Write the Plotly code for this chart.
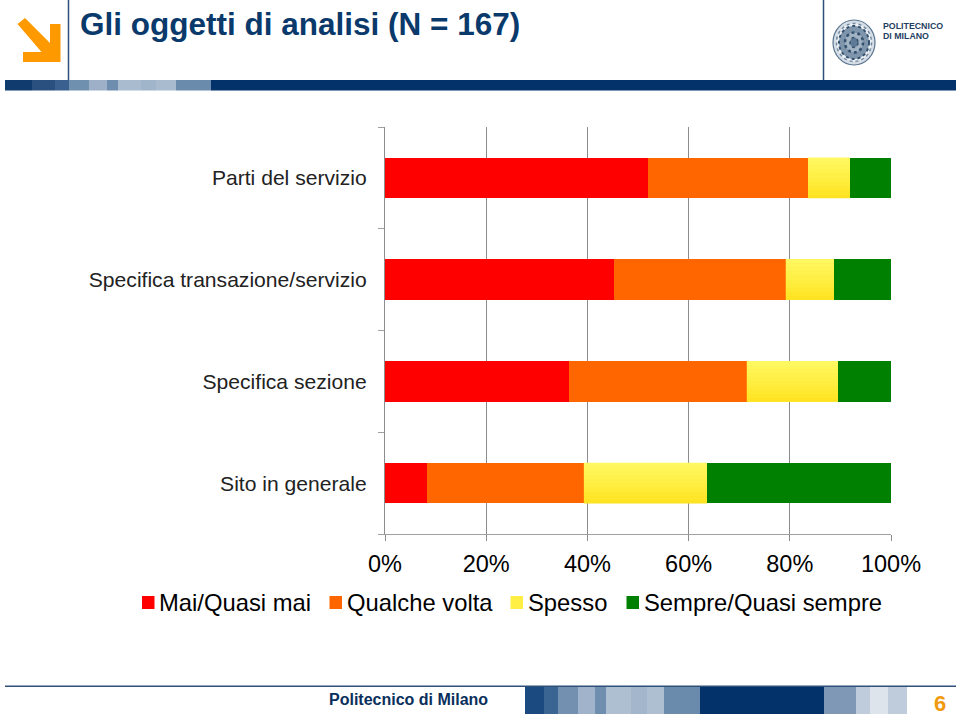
import plotly.graph_objects as go

categories = ["Parti del servizio", "Specifica transazione/servizio", "Specifica sezione", "Sito in generale"]
series_names = ["Mai/Quasi mai", "Qualche volta", "Spesso", "Sempre/Quasi sempre"]
mai = [52.0, 45.3, 36.4, 8.3]
qualche = [31.6, 33.9, 35.1, 31.0]
spesso = [8.3, 9.5, 18.0, 24.3]
sempre = [8.1, 11.3, 10.5, 36.4]
series_values = [mai, qualche, spesso, sempre]
series_colors = ["#FF0000", "#FF6600", "#FFEE44", "#008000"]
tick_values = [0, 20, 40, 60, 80, 100]
tick_labels = ["0%", "20%", "40%", "60%", "80%", "100%"]

W, H = 960, 716
L, R, T, B = 385, 891, 127, 534
NAVY = "#03326A"
BARGAP = 0.6

def px(x):
    return (x - L) / (R - L)

def py(y):
    return (B - y) / (B - T)

def rect(x0, y0, x1, y1, color):
    return dict(type="rect", xref="paper", yref="paper", x0=px(x0), x1=px(x1), y0=py(y0), y1=py(y1),
                fillcolor=color, line=dict(width=0), layer="above")

def vline(x, y0, y1, color, w=1.5):
    return dict(type="line", xref="paper", yref="paper", x0=px(x), x1=px(x), y0=py(y0), y1=py(y1),
                line=dict(color=color, width=w), layer="above")

def text(x, y, s, size, color, anchor="left", bold=False):
    return dict(xref="paper", yref="paper", x=px(x), y=py(y), text=f"<b>{s}</b>" if bold else s,
                showarrow=False, xanchor=anchor, yanchor="middle", align=anchor,
                borderpad=0, borderwidth=0,
                font=dict(family="Liberation Sans, Arial, sans-serif", size=size, color=color))

header_band = [(5, 32, "#0F3B6F"), (32, 55, "#2A5080"), (55, 69, "#3A6090"), (69, 89, "#7090B0"),
               (89, 107, "#9DB0C8"), (107, 118, "#6F8DAE"), (118, 141, "#A9BBCF"), (141, 156, "#A0B4CA"),
               (156, 176, "#A9BBCF"), (176, 211, "#6B8BAC"), (211, 956, NAVY)]
footer_band = [(525, 544, "#1A4A80"), (544, 558, "#3A6593"), (558, 578, "#7390B0"), (578, 595, "#A0B3CB"),
               (595, 606, "#6F8DAE"), (606, 631, "#AEBFD2"), (631, 647, "#A3B6CC"), (647, 664, "#AEBFD2"),
               (664, 700, "#6B8BAC"), (700, 824, NAVY), (824, 856, "#7E98B5"), (856, 870, "#BECCDC"),
               (870, 888, "#DDE4EC"), (888, 907, "#BECCDC")]

shapes = [rect(a, 80, b, 90.5, c) for a, b, c in header_band]
shapes += [rect(a, 686, b, 714, c) for a, b, c in footer_band]
shapes.append(rect(5, 685.5, 956, 687, "#2F5078"))
shapes.append(vline(68.5, 0, 80, "#2F5078"))
shapes.append(vline(823.5, 0, 80, "#2F5078"))

arrow_pts = [(17.5, 24), (25, 18), (50, 43), (50, 24), (60.5, 24), (60.5, 62), (23, 62), (23, 52), (41.5, 52)]
arrow_path = "M" + " L".join(f"{px(x)},{py(y)}" for x, y in arrow_pts) + " Z"
shapes.append(dict(type="path", xref="paper", yref="paper", path=arrow_path,
                   fillcolor="#FF9900", line=dict(width=0), layer="above"))

# Seal of the logo
cx, cy = 854, 42.5
for rx, ry, fill, col, w, dash in [(21, 22.5, "#D5DDE6", "#5A7590", 1.2, "solid"),
                                   (17.5, 19, "#EEF1F5", "#6F889F", 1.5, "dot"),
                                   (15, 16.5, "#7F95AC", "#34526F", 2, "dot"),
                                   (9, 10, "#A2B3C4", "#34526F", 2.5, "dot"),
                                   (4, 5, "#5F7A96", "#34526F", 1.5, "dot")]:
    shapes.append(dict(type="circle", xref="paper", yref="paper", x0=px(cx - rx), x1=px(cx + rx),
                       y0=py(cy + ry), y1=py(cy - ry), fillcolor=fill,
                       line=dict(color=col, width=w, dash=dash), layer="above"))

# Soft vertical shading on the yellow bars, tied to the data
shade = ["#FFF860", "#FFF65A", "#FFF454", "#FFF24D", "#FFF047", "#FFEE40", "#FFEC38", "#FFE930", "#FFE628", "#FFE322"]
half = (1 - BARGAP) / 2
for i in range(len(categories)):
    start = mai[i] + qualche[i]
    pos = len(categories) - 1 - i
    for k, c in enumerate(shade):
        shapes.append(dict(type="rect", xref="x", yref="y", x0=start, x1=start + spesso[i],
                           y0=pos + half - 2 * half * k / len(shade),
                           y1=pos + half - 2 * half * (k + 1) / len(shade),
                           fillcolor=c, line=dict(width=0), layer="above"))

annotations = [
    text(80, 24, "Gli oggetti di analisi (N = 167)", 31.5, "#0A3A6B", bold=True),
    text(883, 26, "POLITECNICO", 8.8, "#1F3F62", bold=True),
    text(883, 36, "DI MILANO", 8.8, "#1F3F62", bold=True),
    text(329, 699, "Politecnico di Milano", 16, "#0A2F5C", bold=True),
    text(940, 703, "6", 22, "#F09A10", anchor="center", bold=True),
]

# Legend row, one swatch and one label per series
legend_swatch_x = [142, 329.5, 510.5, 626.5]
legend_text_x = [159, 347, 528, 644]
legend_swatch_colors = ["#FF0000", "#FF6600", "#FFEE44", "#008000"]
for x, tx, name, col in zip(legend_swatch_x, legend_text_x, series_names, legend_swatch_colors):
    shapes.append(rect(x, 596, x + 12.5, 609, col))
    annotations.append(text(tx, 602.5, name, 23.8, "#000000"))

fig = go.Figure()
for name, vals, col in zip(series_names, series_values, series_colors):
    fig.add_trace(go.Bar(y=categories, x=vals, name=name, orientation="h",
                         marker=dict(color=col, line=dict(width=0))))

fig.update_layout(
    width=W, height=H, barmode="stack", bargap=BARGAP, showlegend=False,
    margin=dict(l=L, r=W - R, t=T, b=H - B, autoexpand=False),
    paper_bgcolor="white", plot_bgcolor="white",
    font=dict(family="Liberation Sans, Arial, sans-serif", color="#000000"),
    shapes=shapes, annotations=annotations,
    xaxis=dict(range=[0, 100], tickvals=tick_values, ticktext=tick_labels,
               showgrid=True, gridcolor="#8C8C8C", gridwidth=1.2,
               ticks="outside", ticklen=6, tickcolor="#8C8C8C", tickwidth=1.2,
               showline=True, linecolor="#A0A0A0", linewidth=1.2, zeroline=False,
               tickfont=dict(size=23.5, color="#000000"), ticklabelstandoff=3),
    yaxis=dict(categoryorder="array", categoryarray=categories[::-1], tickson="boundaries",
               ticks="outside", ticklen=6, tickcolor="#A0A0A0", tickwidth=1.2,
               showline=True, linecolor="#8C8C8C", linewidth=1.2, showgrid=False,
               tickfont=dict(size=21.1, color="#222222"), ticklabelstandoff=13),
)
fig.write_html("out.html", config={"displayModeBar": False},
               post_script="document.body.style.margin='0';")
